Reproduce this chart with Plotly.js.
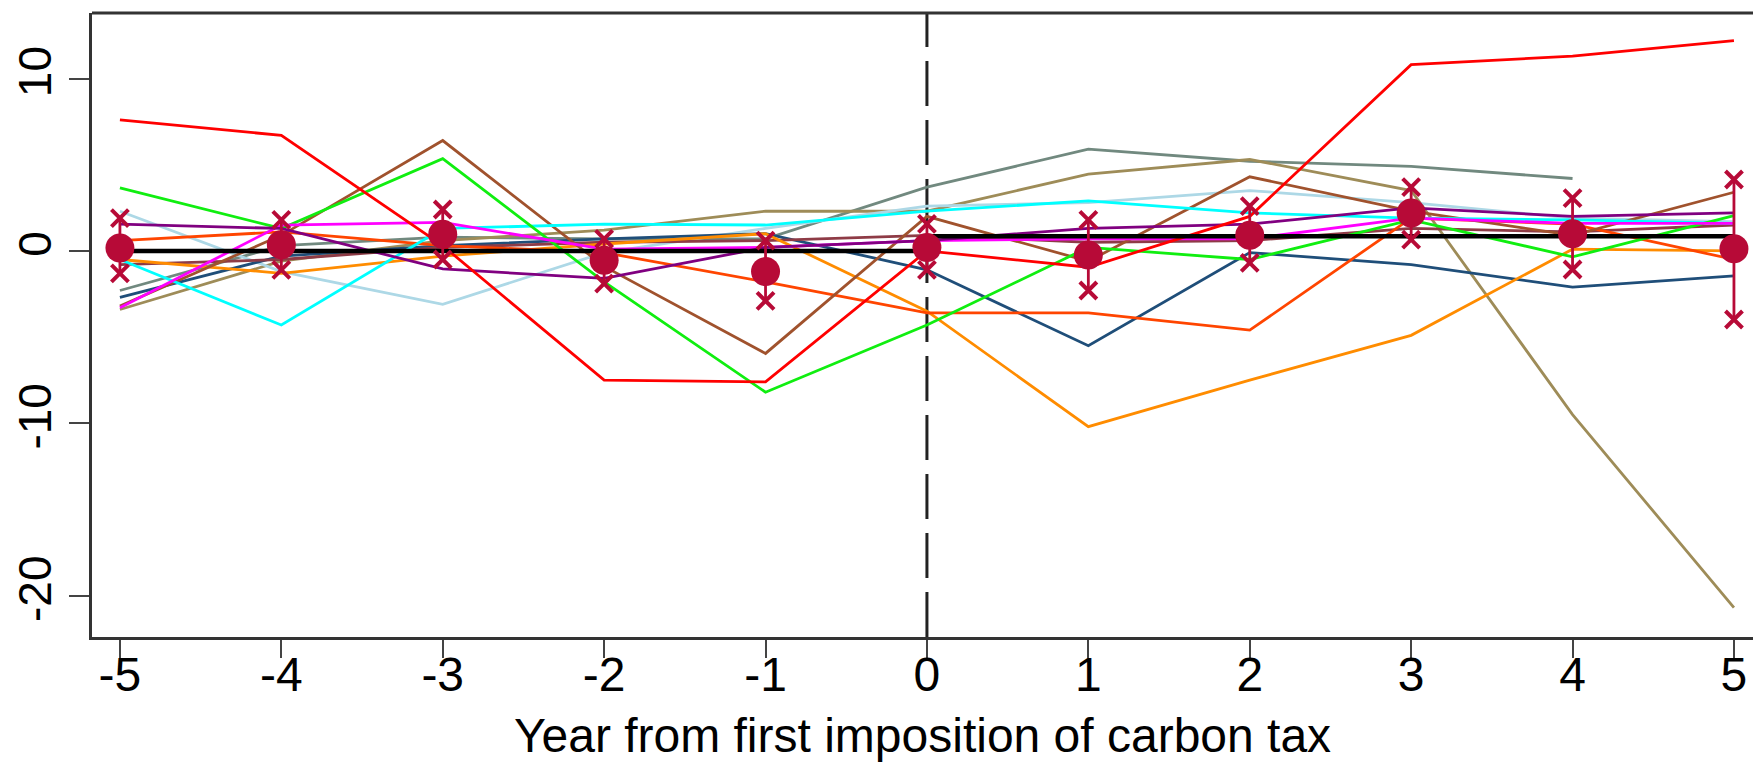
<!DOCTYPE html>
<html>
<head>
<meta charset="utf-8">
<script src="https://cdn.plot.ly/plotly-3.0.1.min.js"></script>
<style>
  html, body { margin: 0; padding: 0; background: #ffffff; overflow: hidden; }
  #chart { width: 1753px; height: 762px; }
</style>
</head>
<body>
<div id="chart"></div>
<script>
// ---- data ----
const years = [-5, -4, -3, -2, -1, 0, 1, 2, 3, 4, 5];
const xTickLabels = ["-5", "-4", "-3", "-2", "-1", "0", "1", "2", "3", "4", "5"];
const yTickValues = [-20, -10, 0, 10];
const yTickLabels = ["-20", "-10", "0", "10"];
const xAxisTitle = "Year from first imposition of carbon tax";

const redSeries       = [7.6, 6.7, 0.3, -7.5, -7.6, 0.0, -0.95, 2.0, 10.8, 11.3, 12.2];
const greenSeries     = [3.65, 1.3, 5.35, -1.8, -8.2, -4.3, 0.2, -0.5, 1.8, -0.35, 2.05];
const siennaSeries    = [-3.2, 0.9, 6.4, -0.9, -5.95, 2.0, -0.6, 4.3, 2.3, 0.9, 3.4];
const cyanSeries      = [-0.5, -4.3, 1.3, 1.55, 1.5, 2.3, 2.9, 2.2, 1.9, 1.8, 1.6];
const lightBlueSeries = [2.3, -1.2, -3.1, -0.1, 1.3, 2.6, 2.8, 3.5, 2.8, 1.9, 1.7];
const purpleSeries    = [1.55, 1.3, -1.05, -1.6, 0.2, 0.6, 1.3, 1.55, 2.5, 2.0, 2.2];
const magentaSeries   = [-3.3, 1.5, 1.65, 0.1, 0.2, 0.6, 0.7, 0.7, 1.9, 1.6, 1.6];
const orangeRedSeries = [0.6, 1.1, 0.3, -0.1, -1.8, -3.6, -3.6, -4.6, 1.9, 1.55, -0.5];
const darkOrangeSeries= [-0.5, -1.3, -0.3, 0.4, 1.0, -3.5, -10.2, -7.5, -4.9, 0.1, 0.0];
const navySeries      = [-2.7, -0.3, 0.3, 0.7, 1.0, -1.1, -5.5, -0.1, -0.8, -2.1, -1.45];
const slateSeries     = [-2.3, 0.3, 0.8, 0.7, 0.7, 3.7, 5.9, 5.2, 4.9, 4.2, null];
const khakiSeries     = [-3.4, -0.6, 0.6, 1.2, 2.3, 2.3, 4.45, 5.3, 3.5, -9.5, -20.7];
const maroonSeries    = [-0.8, -0.5, 0.2, 0.5, 0.6, 0.9, 0.5, 0.6, 1.3, 1.1, 1.5];
const averageSeries   = [0, 0, 0, 0, 0, 0.85, 0.85, 0.85, 0.85, 0.85, 0.85];

const estimate = [0.17, 0.36, 0.96, -0.55, -1.2, 0.2, -0.24, 0.9, 2.2, 1.0, 0.12];
const ciLow    = [-1.3, -1.1, -0.5, -1.9, -2.9, -1.1, -2.3, -0.7, 0.65, -1.08, -3.98];
const ciHigh   = [1.9, 1.8, 2.4, 0.7, 0.6, 1.57, 1.8, 2.6, 3.7, 3.06, 4.14];

// ---- styling ----
const crimson = "#B70A37";
const lineSpecs = [
  [slateSeries,      "#71897F"],
  [khakiSeries,      "#9E8C58"],
  [lightBlueSeries,  "#ADD8E6"],
  [navySeries,       "#1F4E79"],
  [maroonSeries,     "#8E3B46"],
  [darkOrangeSeries, "#FF8C00"],
  [orangeRedSeries,  "#FF4500"],
  [siennaSeries,     "#A0522D"],
  [cyanSeries,       "#00FFFF"],
  [greenSeries,      "#10EE10"],
  [magentaSeries,    "#FF00FF"],
  [purpleSeries,     "#800080"],
  [redSeries,        "#FF0000"]
];

const traces = lineSpecs.map(([ys, c]) => ({
  type: "scatter", mode: "lines", x: years, y: ys,
  line: { color: c, width: 2.8 }, hoverinfo: "skip", connectgaps: false
}));

traces.push({
  type: "scatter", mode: "lines", x: years, y: averageSeries,
  line: { color: "#000000", width: 4.5, shape: "hv" }, hoverinfo: "skip"
});

// confidence interval bars
traces.push({
  type: "scatter", mode: "markers", x: years, y: estimate,
  marker: { size: 1, color: "rgba(0,0,0,0)" },
  error_y: {
    type: "data", symmetric: false,
    array: estimate.map((v, i) => ciHigh[i] - v),
    arrayminus: estimate.map((v, i) => v - ciLow[i]),
    color: crimson, thickness: 2.8, width: 0
  },
  hoverinfo: "skip"
});
traces.push({
  type: "scatter", mode: "markers", x: years, y: ciHigh,
  marker: { symbol: "x-thin", size: 17, line: { color: crimson, width: 4 } },
  hoverinfo: "skip"
});
traces.push({
  type: "scatter", mode: "markers", x: years, y: ciLow,
  marker: { symbol: "x-thin", size: 17, line: { color: crimson, width: 4 } },
  hoverinfo: "skip"
});
traces.push({
  type: "scatter", mode: "markers", x: years, y: estimate,
  marker: { symbol: "circle", size: 29, color: crimson, line: { width: 0 } },
  hoverinfo: "skip"
});

const font = "Liberation Sans, Arial, sans-serif";
const layout = {
  width: 1753, height: 762,
  margin: { l: 92, r: 0, t: 13, b: 125, pad: 0 },
  paper_bgcolor: "#ffffff", plot_bgcolor: "#ffffff",
  showlegend: false,
  font: { family: font, color: "#000000" },
  xaxis: {
    range: [-5.173, 5.118],
    tickmode: "array", tickvals: years, ticktext: xTickLabels,
    ticks: "outside", ticklen: 18, tickwidth: 2, tickcolor: "#444444",
    ticklabelstandoff: -25,
    showline: true, linecolor: "#333333", linewidth: 3,
    showgrid: false, zeroline: false,
    tickfont: { size: 48, family: font, color: "#000000" },
    title: { text: xAxisTitle, font: { size: 48, family: font, color: "#000000" }, standoff: 25 }
  },
  yaxis: {
    range: [-22.4, 13.8],
    tickmode: "array", tickvals: yTickValues, ticktext: yTickLabels,
    tickangle: -90,
    ticks: "outside", ticklen: 20, tickwidth: 2, tickcolor: "#444444",
    showline: true, linecolor: "#333333", linewidth: 3,
    showgrid: false, zeroline: false,
    tickfont: { size: 46, family: font, color: "#000000" }
  },
  shapes: [
    { type: "line", xref: "paper", yref: "paper", x0: 0, x1: 1, y0: 1, y1: 1,
      line: { color: "#333333", width: 3 } },
    { type: "line", xref: "x", yref: "paper", x0: 0, x1: 0, y0: 0, y1: 1, layer: "below",
      line: { color: "#222222", width: 3, dash: "45px,14px" } }
  ]
};

Plotly.newPlot("chart", traces, layout, { staticPlot: true, displayModeBar: false });
</script>
</body>
</html>
